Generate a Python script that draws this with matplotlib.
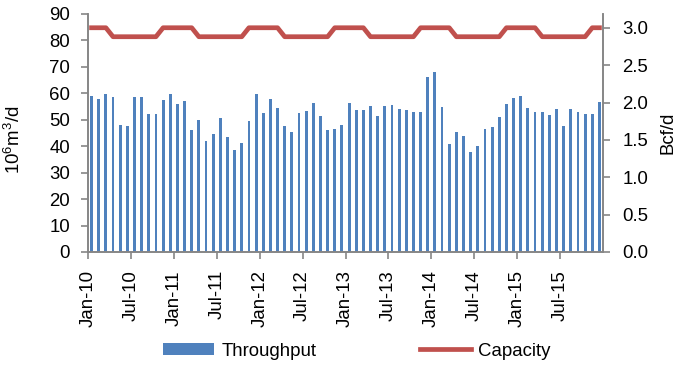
import matplotlib
matplotlib.use('Agg')
import matplotlib.pyplot as plt
import numpy as np

plt.rcParams['font.family'] = ['Liberation Sans', 'DejaVu Sans']
plt.rcParams['mathtext.default'] = 'regular'

# monthly throughput, 10^6 m3/d, Jan-10 .. Dec-15
throughput = [
    58.9, 57.7, 59.7, 58.8, 48.2, 47.8, 58.6, 58.7, 52.0, 52.3, 57.5, 59.8,  # 2010
    56.1, 57.0, 46.1, 49.9, 42.1, 44.6, 50.7, 43.5, 38.4, 41.2, 49.6, 59.8,  # 2011
    52.7, 57.9, 54.6, 47.7, 45.4, 52.6, 53.4, 56.5, 51.5, 46.3, 46.5, 47.9,  # 2012
    56.3, 53.7, 53.7, 55.1, 51.3, 55.3, 55.6, 53.9, 53.6, 53.0, 53.0, 66.3,  # 2013
    68.1, 55.0, 40.9, 45.4, 43.7, 37.8, 40.1, 46.5, 47.4, 51.1, 55.8, 58.3,  # 2014
    59.1, 54.5, 53.0, 52.9, 51.8, 54.0, 47.5, 54.0, 53.0, 52.2, 52.2, 56.8,  # 2015
]
# capacity, Bcf/d
capacity = [
    3.0, 3.0, 3.0, 2.88, 2.88, 2.88, 2.88, 2.88, 2.88, 2.88, 3.0, 3.0,
    3.0, 3.0, 3.0, 2.88, 2.88, 2.88, 2.88, 2.88, 2.88, 2.88, 3.0, 3.0,
    3.0, 3.0, 3.0, 2.88, 2.88, 2.88, 2.88, 2.88, 2.88, 2.88, 3.0, 3.0,
    3.0, 3.0, 3.0, 2.88, 2.88, 2.88, 2.88, 2.88, 2.88, 2.88, 3.0, 3.0,
    3.0, 3.0, 3.0, 2.88, 2.88, 2.88, 2.88, 2.88, 2.88, 2.88, 3.0, 3.0,
    3.0, 3.0, 3.0, 2.88, 2.88, 2.88, 2.88, 2.88, 2.88, 2.88, 3.0, 3.0,
]
tick_labels = ['Jan-10', 'Jul-10', 'Jan-11', 'Jul-11', 'Jan-12', 'Jul-12',
               'Jan-13', 'Jul-13', 'Jan-14', 'Jul-14', 'Jan-15', 'Jul-15']

fs = 13.4
grey = '#868686'

fig = plt.figure(figsize=(6.85, 3.65), dpi=100)
ax = fig.add_axes([88/685, 1-252/365, (603-88)/685, 238/365])
ax2 = ax.twinx()

x = np.arange(len(throughput)) + 0.5
bars = ax.bar(x, throughput, width=0.4, color='#4F81BD', label='Throughput')
line, = ax2.plot(x, capacity, color='#C0504D', lw=3.4, label='Capacity',
                 solid_joinstyle='round', solid_capstyle='projecting')

ax.set_xlim(0, 72)
ax.set_ylim(0, 90)
ax2.set_ylim(0, 90/84.8*3.0)
ax.set_yticks(np.arange(0, 91, 10))
ax2.set_yticks(np.arange(0, 3.01, 0.5))
ax2.set_yticklabels(['%.1f' % v for v in np.arange(0, 3.01, 0.5)])
ax.set_xticks(np.arange(0, 72, 6))
ax.set_xticklabels(tick_labels, rotation=90)

for a in (ax, ax2):
    a.spines['top'].set_visible(False)
    for s in ('left', 'right', 'bottom'):
        a.spines[s].set_color(grey)
        a.spines[s].set_linewidth(1.2)
    a.tick_params(axis='both', colors=grey, labelcolor='black', labelsize=fs,
                  length=5, width=1.2, direction='out')
ax.tick_params(axis='y', pad=8)
ax2.tick_params(axis='y', pad=9)
ax.tick_params(axis='x', pad=8)

ax.set_ylabel('10$^6$m$^3$/d', fontsize=fs)
ax.yaxis.set_label_coords(-0.125, 0.47)
ax2.set_ylabel('Bcf/d', fontsize=fs, labelpad=8)

fig.legend(handles=[bars, line], loc='center', bbox_to_anchor=(357/685, 1-351/365),
           ncol=2, frameon=False, fontsize=fs, handlelength=2.7,
           handletextpad=0.4, columnspacing=5.6, handleheight=0.6)

fig.savefig('out.png', dpi=100)
